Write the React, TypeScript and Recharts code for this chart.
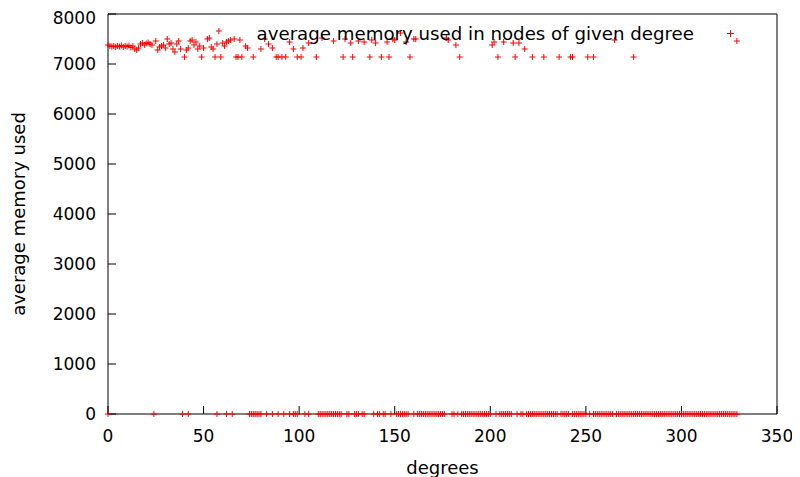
import React from 'react';
import { ScatterChart, Scatter, XAxis, YAxis, Legend, CartesianGrid } from 'recharts';

// Degrees whose nodes used memory, with the average memory at that degree
const usedDegrees = [
  0, 1, 2, 3, 4, 5, 6, 7, 8, 9, 10, 11, 12, 13, 14, 15, 16, 17, 18, 19,
  20, 21, 22, 23, 25, 26, 27, 28, 29, 30, 31, 32, 33, 34, 35, 36, 37, 38,
  40, 41, 42, 43, 44, 45, 46, 47, 48, 49, 50, 52, 53, 54, 55, 56, 57, 58,
  59, 60, 61, 62, 63, 64, 66, 67, 68, 69, 70, 72, 73, 76, 80, 82, 84, 86,
  88, 89, 91, 93, 95, 97, 99, 101, 102, 105, 109, 112, 118, 123, 124, 127,
  128, 131, 134, 137, 138, 140, 143, 146, 147, 149, 150, 153, 156, 158,
  160, 161, 177, 178, 182, 184, 201, 202, 204, 207, 212, 213, 215, 218,
  222, 228, 236, 242, 243, 251, 254, 265, 275, 329,
];
const usedMemory = [
  7380, 7360, 7350, 7360, 7340, 7360, 7350, 7370, 7340, 7360, 7350, 7370,
  7330, 7360, 7300, 7280, 7320, 7400, 7420, 7380, 7410, 7430, 7400, 7380,
  7460, 7280, 7340, 7360, 7380, 7320, 7500, 7400, 7420, 7300, 7240, 7400,
  7460, 7300, 7140, 7280, 7320, 7460, 7480, 7380, 7440, 7300, 7360, 7140,
  7320, 7500, 7520, 7340, 7300, 7140, 7400, 7660, 7140, 7420, 7360, 7440,
  7460, 7480, 7500, 7140, 7140, 7480, 7140, 7360, 7320, 7140, 7300, 7500,
  7400, 7320, 7140, 7140, 7140, 7140, 7440, 7300, 7140, 7140, 7320, 7420,
  7140, 7520, 7460, 7140, 7500, 7420, 7140, 7460, 7440, 7140, 7480, 7420,
  7140, 7440, 7140, 7500, 7480, 7620, 7440, 7140, 7500, 7500, 7520, 7480,
  7380, 7140, 7380, 7440, 7140, 7440, 7420, 7140, 7420, 7300, 7140, 7140,
  7140, 7140, 7140, 7140, 7140, 7480, 7140, 7460,
];
// Degrees whose nodes used no memory
const idleDegrees = [
  0, 24, 39, 42, 57, 62, 65, 74, 75, 76, 77, 78, 79, 80, 83, 86, 89, 92,
  95, 97, 98, 99, 103, 105, 110, 111, 112, 113, 114, 115, 116, 117, 118,
  119, 120, 121, 122, 125, 126, 129, 130, 131, 133, 134, 139, 141, 142,
  144, 145, 148, 151, 152, 153, 154, 155, 156, 157, 160, 162, 163, 164,
  165, 166, 167, 168, 169, 170, 171, 172, 173, 174, 175, 176, 180, 181,
  183, 185, 186, 187, 188, 189, 190, 191, 192, 193, 194, 195, 196, 197,
  198, 199, 200, 203, 205, 206, 207, 208, 209, 210, 211, 214, 216, 217,
  219, 220, 221, 222, 223, 224, 225, 226, 227, 228, 229, 230, 231, 232,
  233, 234, 235, 237, 238, 239, 240, 241, 243, 244, 245, 246, 247, 248,
  249, 250, 252, 254, 255, 256, 257, 258, 259, 260, 261, 262, 263, 264,
  266, 267, 268, 269, 270, 271, 272, 273, 274, 275, 276, 277, 278, 279,
  280, 281, 282, 283, 284, 285, 286, 287, 288, 289, 290, 291, 292, 293,
  294, 295, 296, 297, 298, 299, 300, 301, 302, 303, 304, 305, 306, 307,
  308, 309, 310, 311, 312, 313, 314, 315, 316, 317, 318, 319, 320, 321,
  322, 323, 324, 325, 326, 327, 328, 329,
];

const xTicks = [0, 50, 100, 150, 200, 250, 300, 350];
const yTicks = [0, 1000, 2000, 3000, 4000, 5000, 6000, 7000, 8000];
const seriesName = 'average memory used in nodes of given degree';

const points = [
  ...usedDegrees.map((d, i) => ({ degree: d, memory: usedMemory[i] })),
  ...idleDegrees.map((d) => ({ degree: d, memory: 0 })),
];

const RED = '#ff0000';
const FONT = '"DejaVu Sans", sans-serif';

const Plus = (props: any) => {
  const { cx, cy } = props;
  if (cx == null || cy == null) return null;
  return (
    <path
      d={`M${cx - 3},${cy}h6M${cx},${cy - 3}v6`}
      stroke={RED}
      strokeWidth={1}
      fill="none"
    />
  );
};

const KeyBox = () => (
  <div
    style={{
      position: 'absolute',
      left: 0,
      top: 0,
      width: 792,
      height: 40,
      fontFamily: FONT,
      fontSize: 18.2,
      color: '#000',
      pointerEvents: 'none',
    }}
  >
    <span
      style={{
        position: 'absolute',
        right: 792 - 686,
        top: 16,
        lineHeight: '20px',
        whiteSpace: 'nowrap',
      }}
    >
      {seriesName}
    </span>
    <svg
      style={{ position: 'absolute', left: 718, top: 21 }}
      width={9}
      height={9}
    >
      <path d="M1,4.5h7M4.5,1v7" stroke={RED} strokeWidth={1} />
    </svg>
  </div>
);

export default function App() {
  const tickStyle = { fill: '#000', fontSize: 17, fontFamily: FONT };
  return (
    <ScatterChart
      width={792}
      height={469}
      margin={{ top: 6, right: 23, bottom: 0, left: 0 }}
      style={{ fontFamily: FONT }}
    >
      {/* plot frame, drawn beneath the points */}
      <CartesianGrid
        xAxisId="bottom"
        yAxisId="left"
        stroke="#000"
        horizontalCoordinatesGenerator={({ offset }: any) => [
          offset.top,
          offset.top + offset.height,
        ]}
        verticalCoordinatesGenerator={({ offset }: any) => [
          offset.left,
          offset.left + offset.width,
        ]}
      />
      <XAxis
        xAxisId="bottom"
        type="number"
        dataKey="degree"
        domain={[0, 350]}
        ticks={xTicks}
        height={63}
        tickSize={-8}
        tickMargin={24}
        tick={tickStyle}
        axisLine={false}
        tickLine={{ stroke: '#000' }}
        label={{
          value: 'degrees',
          position: 'insideBottom',
          offset: 3,
          fill: '#000',
          fontSize: 18,
          fontFamily: FONT,
        }}
      />
      <XAxis
        xAxisId="top"
        orientation="top"
        type="number"
        dataKey="degree"
        domain={[0, 350]}
        ticks={xTicks}
        height={0}
        tickSize={-8}
        tick={false}
        axisLine={false}
        tickLine={{ stroke: '#000' }}
      />
      <YAxis
        yAxisId="left"
        type="number"
        dataKey="memory"
        domain={[0, 8000]}
        ticks={yTicks}
        width={100}
        tickSize={-8}
        tickMargin={20}
        tick={tickStyle}
        axisLine={false}
        tickLine={{ stroke: '#000' }}
        label={{
          value: 'average memory used',
          angle: -90,
          position: 'insideLeft',
          offset: 11,
          fill: '#000',
          fontSize: 18,
          fontFamily: FONT,
          style: { textAnchor: 'middle' },
        }}
      />
      <YAxis
        yAxisId="right"
        orientation="right"
        type="number"
        dataKey="memory"
        domain={[0, 8000]}
        ticks={yTicks}
        width={0}
        tickSize={-8}
        tick={false}
        axisLine={false}
        tickLine={{ stroke: '#000' }}
      />
      <Legend
        layout="vertical"
        align="center"
        verticalAlign="middle"
        content={() => <KeyBox />}
        wrapperStyle={{ position: 'absolute', left: 0, top: 0, width: 792 }}
      />
      <Scatter
        name={seriesName}
        data={points}
        xAxisId="bottom"
        yAxisId="left"
        shape={Plus}
        fill={RED}
        isAnimationActive={false}
      />
      <Scatter
        data={[]}
        xAxisId="top"
        yAxisId="right"
        legendType="none"
        isAnimationActive={false}
      />
    </ScatterChart>
  );
}
